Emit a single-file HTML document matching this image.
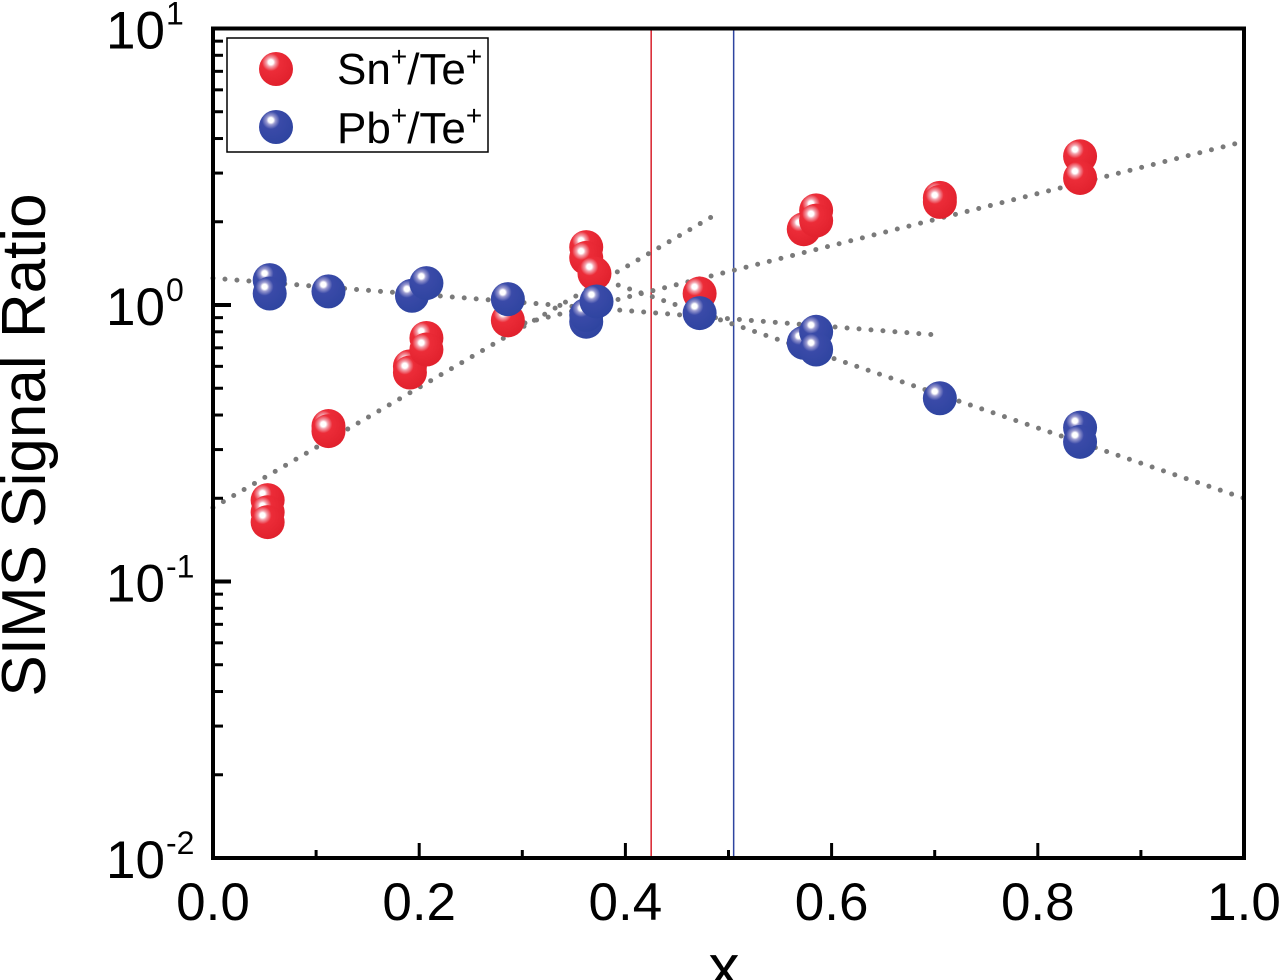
<!DOCTYPE html>
<html><head><meta charset="utf-8"><style>
body{margin:0;background:#fff;position:relative;}
svg{display:block;font-family:"Liberation Sans",Arial,sans-serif;}
</style></head><body>
<svg id="chart" width="1280" height="980" viewBox="0 0 1280 980" xmlns="http://www.w3.org/2000/svg">
<defs>
<radialGradient id="gr" cx="0.35" cy="0.3" r="0.75">
<stop offset="0" stop-color="#fff"/><stop offset="0.1" stop-color="#fff"/><stop offset="0.18" stop-color="#f3a0aa"/><stop offset="0.35" stop-color="#ec2c38"/><stop offset="1" stop-color="#e0202c"/></radialGradient>
<radialGradient id="gb" cx="0.35" cy="0.3" r="0.75">
<stop offset="0" stop-color="#fff"/><stop offset="0.1" stop-color="#fff"/><stop offset="0.18" stop-color="#9a9ad0"/><stop offset="0.35" stop-color="#3a4aa8"/><stop offset="1" stop-color="#2e44a0"/></radialGradient>
</defs>
<g id="plot"></g>
</svg>
<script>
const redX=[0.053,0.053,0.053,0.112,0.112,0.191,0.191,0.207,0.207,0.286,0.362,0.362,0.370,0.472,0.573,0.585,0.585,0.705,0.705,0.841,0.841];
const redY=[0.197,0.178,0.164,0.365,0.35,0.60,0.57,0.76,0.69,0.88,1.62,1.48,1.30,1.10,1.88,2.20,2.02,2.44,2.36,3.45,2.88];
const blueX=[0.055,0.055,0.112,0.193,0.207,0.286,0.362,0.362,0.372,0.472,0.573,0.585,0.585,0.705,0.841,0.841];
const blueY=[1.23,1.10,1.12,1.08,1.20,1.05,0.87,0.92,1.03,0.935,0.73,0.80,0.69,0.46,0.36,0.32];
const trendX0=[0.0,0.28,0.0,0.36];
const trendX1=[0.49,1.0,0.70,1.0];
const trendY0=[0.185,0.82,1.25,1.3];
const trendY1=[2.15,3.9,0.78,0.2];
const xTicks=[0,0.2,0.4,0.6,0.8,1.0];
const xTickLabels=["0.0","0.2","0.4","0.6","0.8","1.0"];
const yExps=[1,0,-1,-2];
const vLines=[0.425,0.505];
const vColors=["#d8202c","#2e44a0"];

const L=213,R=1244,T=28.5,B=858;
const sx=v=>L+(R-L)*v;
const sy=v=>T+(1-Math.log10(v))*(B-T)/3;
const NS="http://www.w3.org/2000/svg";
const g=document.getElementById('plot');
function mk(t,a,p){const e=document.createElementNS(NS,t);for(const k in a)e.setAttribute(k,a[k]);(p||g).appendChild(e);return e;}

vLines.forEach((v,i)=>{const e=mk('line',{x1:sx(v),x2:sx(v),y1:T,y2:B,stroke:vColors[i],'stroke-width':1.5});

});

trendX0.forEach((x0,i)=>{const e=mk('line',{x1:sx(x0),y1:sy(trendY0[i]),x2:sx(trendX1[i]),y2:sy(trendY1[i]),stroke:'#7a7a7a','stroke-width':5,'stroke-dasharray':'0 12','stroke-linecap':'round'});

});

redX.forEach((x,i)=>{const c=mk('circle',{cx:sx(x),cy:sy(redY[i]),r:17,fill:'url(#gr)'});

});
blueX.forEach((x,i)=>{const c=mk('circle',{cx:sx(x),cy:sy(blueY[i]),r:17,fill:'url(#gb)'});

});

const fr=mk('rect',{x:L,y:T,width:R-L,height:B-T,fill:'none',stroke:'#000','stroke-width':4});



for(let k=0;k<=10;k++){const x=sx(k/10);const len=k%2?8:15;mk('line',{x1:x,x2:x,y1:B,y2:B-len,stroke:'#000','stroke-width':3});}
xTicks.forEach((v,i)=>{const t=mk('text',{x:sx(v),y:920,'font-size':53,'text-anchor':'middle'});t.textContent=xTickLabels[i];

});

for(let d=-2;d<1;d++){for(let m=2;m<=9;m++){const y=sy(m*Math.pow(10,d));mk('line',{x1:L,x2:L+10,y1:y,y2:y,stroke:'#000','stroke-width':3});}}
yExps.forEach(e=>{const y=sy(Math.pow(10,e));mk('line',{x1:L,x2:L+18,y1:y,y2:y,stroke:'#000','stroke-width':4});
const t=mk('text',{x:165,y:y+20,'font-size':53,'text-anchor':'end'});t.textContent='10';


const s=mk('text',{x:166,y:y-4,'font-size':32,'text-anchor':'start'});s.textContent=String(e);});
</script>
<svg style="position:absolute;left:0;top:0" width="1280" height="980" xmlns="http://www.w3.org/2000/svg">
<defs>
<radialGradient id="gr2" cx="0.35" cy="0.3" r="0.75"><stop offset="0" stop-color="#fff"/><stop offset="0.1" stop-color="#fff"/><stop offset="0.18" stop-color="#f3a0aa"/><stop offset="0.35" stop-color="#ec2c38"/><stop offset="1" stop-color="#e0202c"/></radialGradient>
<radialGradient id="gb2" cx="0.35" cy="0.3" r="0.75"><stop offset="0" stop-color="#fff"/><stop offset="0.1" stop-color="#fff"/><stop offset="0.18" stop-color="#9a9ad0"/><stop offset="0.35" stop-color="#3a4aa8"/><stop offset="1" stop-color="#2e44a0"/></radialGradient>
</defs>
<g font-family="Liberation Sans,Arial,sans-serif">
<rect x="227" y="38" width="261" height="114" fill="#fff" stroke="#000" stroke-width="1.5"/>
<circle cx="276" cy="69" r="17" fill="url(#gr2)"/>
<text x="337" y="84" font-size="44">Sn<tspan font-size="28" dy="-18">+</tspan><tspan dy="18">/Te</tspan><tspan font-size="28" dy="-18">+</tspan></text>
<circle cx="276" cy="127" r="17" fill="url(#gb2)"/>
<text x="337" y="143" font-size="44">Pb<tspan font-size="28" dy="-18">+</tspan><tspan dy="18">/Te</tspan><tspan font-size="28" dy="-18">+</tspan></text>
</g>
<text x="724" y="988" font-size="62" text-anchor="middle" font-family="Liberation Sans,Arial,sans-serif">x</text>
<text transform="translate(45,445) rotate(-90)" font-size="62" text-anchor="middle" font-family="Liberation Sans,Arial,sans-serif">SIMS Signal Ratio</text>
</svg>
</body></html>
